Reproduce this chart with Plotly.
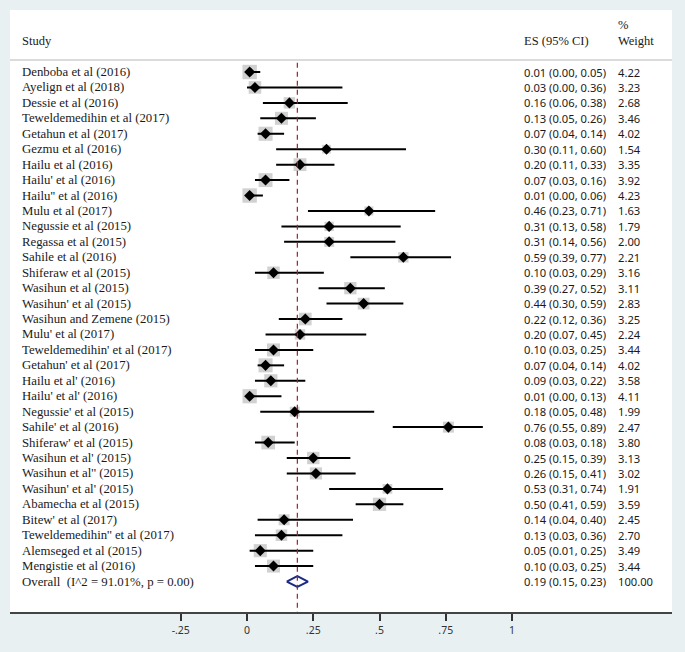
import plotly.graph_objects as go

# study data
studies = [
    "Denboba et al (2016)", "Ayelign et al (2018)", "Dessie et al (2016)",
    "Teweldemedihin et al (2017)", "Getahun et al (2017)", "Gezmu et al (2016)",
    "Hailu et al (2016)", "Hailu' et al (2016)", "Hailu'' et al (2016)",
    "Mulu et al (2017)", "Negussie et al (2015)", "Regassa et al (2015)",
    "Sahile et al (2016)", "Shiferaw et al (2015)", "Wasihun et al (2015)",
    "Wasihun' et al (2015)", "Wasihun and Zemene (2015)", "Mulu' et al (2017)",
    "Teweldemedihin' et al (2017)", "Getahun' et al (2017)", "Hailu et al' (2016)",
    "Hailu' et al' (2016)", "Negussie' et al (2015)", "Sahile' et al (2016)",
    "Shiferaw' et al (2015)", "Wasihun et al' (2015)", "Wasihun et al'' (2015)",
    "Wasihun' et al' (2015)", "Abamecha et al (2015)", "Bitew' et al (2017)",
    "Teweldemedihin'' et al (2017)", "Alemseged et al (2015)", "Mengistie et al (2016)",
]
es = [0.01, 0.03, 0.16, 0.13, 0.07, 0.30, 0.20, 0.07, 0.01, 0.46, 0.31, 0.31,
      0.59, 0.10, 0.39, 0.44, 0.22, 0.20, 0.10, 0.07, 0.09, 0.01, 0.18, 0.76,
      0.08, 0.25, 0.26, 0.53, 0.50, 0.14, 0.13, 0.05, 0.10]
lo = [0.00, 0.00, 0.06, 0.05, 0.04, 0.11, 0.11, 0.03, 0.00, 0.23, 0.13, 0.14,
      0.39, 0.03, 0.27, 0.30, 0.12, 0.07, 0.03, 0.04, 0.03, 0.00, 0.05, 0.55,
      0.03, 0.15, 0.15, 0.31, 0.41, 0.04, 0.03, 0.01, 0.03]
hi = [0.05, 0.36, 0.38, 0.26, 0.14, 0.60, 0.33, 0.16, 0.06, 0.71, 0.58, 0.56,
      0.77, 0.29, 0.52, 0.59, 0.36, 0.45, 0.25, 0.14, 0.22, 0.13, 0.48, 0.89,
      0.18, 0.39, 0.41, 0.74, 0.59, 0.40, 0.36, 0.25, 0.25]
weight = [4.22, 3.23, 2.68, 3.46, 4.02, 1.54, 3.35, 3.92, 4.23, 1.63, 1.79, 2.00,
          2.21, 3.16, 3.11, 2.83, 3.25, 2.24, 3.44, 4.02, 3.58, 4.11, 1.99, 2.47,
          3.80, 3.13, 3.02, 1.91, 3.59, 2.45, 2.70, 3.49, 3.44]

overall_label = "Overall  (I^2 = 91.01%, p = 0.00)"
overall_es, overall_lo, overall_hi, overall_w = 0.19, 0.15, 0.23, 100.00

tick_vals = [-0.25, 0, 0.25, 0.5, 0.75, 1]
tick_text = ["-.25", "0", ".25", ".5", ".75", "1"]

rows = list(range(len(studies)))
overall_row = len(studies)

serif = "Liberation Serif"
sans = "Noto Sans"
txt_col = "#1a1a1a"
bg = "#e8f0f2"

fig = go.Figure()

# weight squares (area ~ weight)
fig.add_trace(go.Scatter(
    x=es, y=rows, mode="markers",
    marker=dict(symbol="square", color="#bdbdbd",
                size=[7.0 * w ** 0.5 for w in weight], line=dict(width=0)),
    hoverinfo="skip", showlegend=False,
))

# CI lines
cx, cy = [], []
for r, a, b in zip(rows, lo, hi):
    cx += [a, b, None]
    cy += [r, r, None]
fig.add_trace(go.Scatter(x=cx, y=cy, mode="lines",
                         line=dict(color="black", width=2),
                         hoverinfo="skip", showlegend=False))

# point estimates
fig.add_trace(go.Scatter(
    x=es, y=rows, mode="markers",
    marker=dict(symbol="diamond", color="black", size=8.5),
    hoverinfo="skip", showlegend=False,
))

# overall diamond
h = 0.35
fig.add_trace(go.Scatter(
    x=[overall_lo, overall_es, overall_hi, overall_es, overall_lo],
    y=[overall_row, overall_row - h, overall_row, overall_row + h, overall_row],
    mode="lines", line=dict(color="#1c2a84", width=2),
    fill="toself", fillcolor="white",
    hoverinfo="skip", showlegend=False,
))

shapes = [
    # overall effect reference line
    dict(type="line", xref="x", yref="y", x0=overall_es, x1=overall_es,
         y0=-0.6, y1=35, line=dict(color="#a0222a", width=1.2, dash="5px,4px")),
    # header separator
    dict(type="line", xref="paper", yref="y", x0=0, x1=1, y0=-0.78, y1=-0.78,
         line=dict(color="#cfcfcf", width=1.5)),
]

ann = []
def add_text(xp, y, text, font, size):
    ann.append(dict(xref="paper", yref="y", x=xp, y=y, text=text,
                    showarrow=False, xanchor="left", yanchor="middle",
                    font=dict(family=font, size=size, color=txt_col)))

# header
add_text(0.0155, -2.01, "Study", serif, 12.5)
add_text(0.773, -2.01, "ES (95% CI)", serif, 12.5)
add_text(0.9155, -3.04, "%", serif, 12.5)
add_text(0.9155, -2.01, "Weight", serif, 12.5)

for r, name, e, a, b, w in zip(rows, studies, es, lo, hi, weight):
    add_text(0.0155, r, name, serif, 12.8)
    add_text(0.773, r, f"{e:.2f} ({a:.2f}, {b:.2f})", sans, 11.2)
    add_text(0.9155, r, f"{w:.2f}", sans, 11.2)

add_text(0.0155, overall_row, overall_label, serif, 12.8)
add_text(0.773, overall_row,
         f"{overall_es:.2f} ({overall_lo:.2f}, {overall_hi:.2f})", sans, 11.2)
add_text(0.9155, overall_row, f"{overall_w:.2f}", sans, 11.2)

fig.update_layout(
    width=685, height=652,
    margin=dict(l=10, r=13, t=10, b=40),
    paper_bgcolor=bg,
    plot_bgcolor="white",
    shapes=shapes,
    annotations=ann,
    xaxis=dict(
        range=[(10 - 247) / 265, (672 - 247) / 265],
        tickvals=tick_vals, ticktext=tick_text,
        ticks="outside", ticklen=7, tickwidth=1.5, tickcolor="#333",
        showline=True, linecolor="#444", linewidth=2,
        showgrid=False, zeroline=False,
        tickfont=dict(family=sans, size=10.5, color="#333"),
        fixedrange=True,
    ),
    yaxis=dict(
        range=[(612 - 72) / 15.44, (10 - 72) / 15.44],
        showticklabels=False, showgrid=False, zeroline=False,
        showline=False, fixedrange=True,
    ),
)

fig.write_html(
    "out.html",
    config={"displayModeBar": False},
    post_script=f"document.body.style.margin='0';document.body.style.background='{bg}';",
)
